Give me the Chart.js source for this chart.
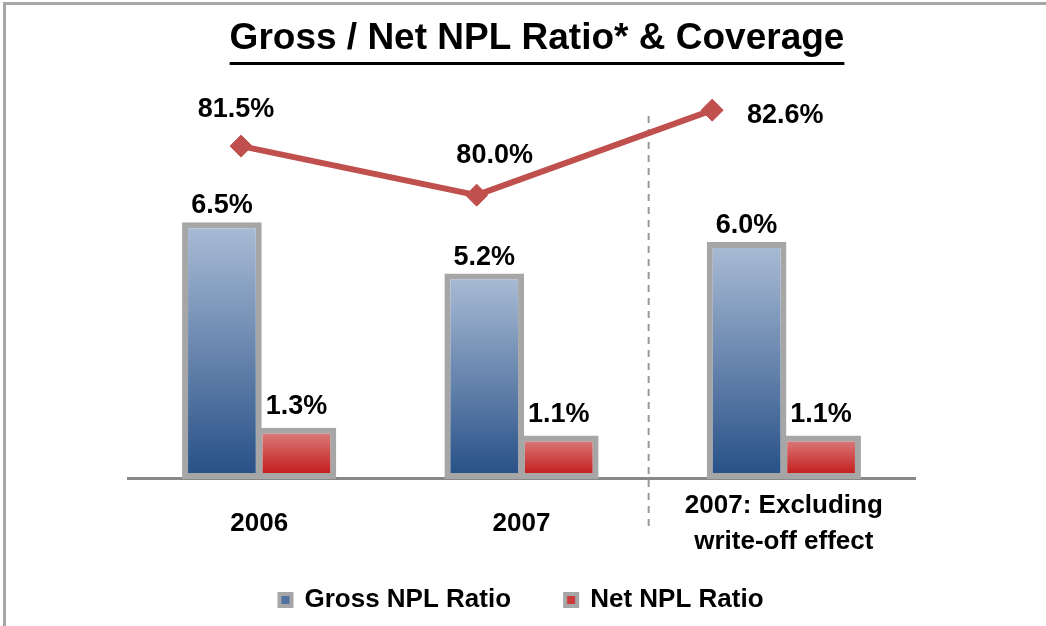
<!DOCTYPE html>
<html>
<head>
<meta charset="utf-8">
<script src="https://cdn.jsdelivr.net/npm/chart.js@4.4.1/dist/chart.umd.min.js"></script>
<style>
  html, body { margin: 0; padding: 0; background: #fff; overflow: hidden; }
  #wrap { position: relative; width: 1046px; height: 626px; }
  #frame { position: absolute; left: 3px; top: 2px; right: -10px; bottom: -10px;
           border-left: 3px solid #a6a6a6; border-top: 3px solid #a6a6a6; pointer-events: none; }
</style>
</head>
<body>
<div id="wrap">
  <canvas id="chart" width="1046" height="626"></canvas>
  <div id="frame"></div>
</div>
<script>
const categories = ["2006", "2007", ["2007: Excluding", "write-off effect"]];
const grossNpl = [6.5, 5.2, 6.0];
const netNpl = [1.3, 1.1, 1.1];
const coverage = [81.5, 80.0, 82.6];
const seriesNames = ["Gross NPL Ratio", "Net NPL Ratio"];

const FONT = '"Liberation Sans", Arial, Helvetica, sans-serif';
const TITLE = "Gross / Net NPL Ratio* & Coverage";

// coverage markers sit on their own spacing along the category axis
const coverageStart = -0.069;
const coverageStep = 0.898;

// label placement: gap above bars, and shifts for the coverage labels
const barLabelGap = [9, 14];
const coverageLabelShift = [[-5, -29], [18, -32], [73, 13]];

// per-bar vertical gradient, light at the top, dark at the base
function barGradient(top, bottom) {
  return (ctx) => {
    const chart = ctx.chart;
    if (ctx.type !== "data" || !chart.chartArea) return bottom;
    const y = chart.scales.y;
    const g = chart.ctx.createLinearGradient(0, y.getPixelForValue(ctx.raw), 0, y.getPixelForValue(0));
    g.addColorStop(0, top);
    g.addColorStop(1, bottom);
    return g;
  };
}

// underlined heading
const headline = {
  id: "headline",
  afterDraw(chart) {
    const c = chart.ctx;
    c.save();
    c.font = "bold 37px " + FONT;
    c.fillStyle = "#000";
    c.textAlign = "center";
    c.textBaseline = "alphabetic";
    const cx = 537;
    c.fillText(TITLE, cx, 49);
    const w = c.measureText(TITLE).width;
    c.fillRect(cx - w / 2, 62, w, 3);
    c.restore();
  }
};

// dashed divider between the reported and adjusted figures
const separator = {
  id: "separator",
  beforeDatasetsDraw(chart) {
    const x = chart.scales.x;
    const area = chart.chartArea;
    const sx = (x.getPixelForValue(1) + x.getPixelForValue(2)) / 2 - 4;
    const c = chart.ctx;
    c.save();
    c.strokeStyle = "#999";
    c.lineWidth = 2;
    c.setLineDash([7, 6]);
    c.beginPath();
    c.moveTo(sx, area.top + 32);
    c.lineTo(sx, area.bottom + 50);
    c.stroke();
    c.restore();
  }
};

const valueLabels = {
  id: "valueLabels",
  afterDatasetsDraw(chart) {
    const c = chart.ctx;
    c.save();
    c.font = "bold 27px " + FONT;
    c.fillStyle = "#000";
    c.textAlign = "center";
    c.textBaseline = "alphabetic";
    [grossNpl, netNpl].forEach((vals, di) => {
      chart.getDatasetMeta(di).data.forEach((bar, i) => {
        c.fillText(vals[i].toFixed(1) + "%", bar.x, bar.y - barLabelGap[di]);
      });
    });
    chart.getDatasetMeta(2).data.forEach((pt, i) => {
      const s = coverageLabelShift[i];
      c.fillText(coverage[i].toFixed(1) + "%", pt.x + s[0], pt.y + s[1]);
    });
    c.restore();
  }
};

new Chart(document.getElementById("chart"), {
  type: "bar",
  data: {
    labels: categories,
    datasets: [
      {
        label: seriesNames[0],
        data: grossNpl,
        backgroundColor: barGradient("#abbdd6", "#264f86"),
        borderColor: "#a6a6a6",
        borderWidth: 6,
        borderSkipped: false,
        categoryPercentage: 0.568,
        barPercentage: 1.07,
        order: 2
      },
      {
        label: seriesNames[1],
        data: netNpl,
        backgroundColor: barGradient("#dc8686", "#c21010"),
        borderColor: "#a6a6a6",
        borderWidth: 6,
        borderSkipped: false,
        categoryPercentage: 0.568,
        barPercentage: 1.07,
        order: 2
      },
      {
        type: "line",
        label: "Coverage",
        parsing: false,
        data: coverage.map((v, i) => ({ x: coverageStart + i * coverageStep, y: v })),
        yAxisID: "y2",
        borderColor: "#c0504d",
        backgroundColor: "#c0504d",
        borderWidth: 6,
        pointStyle: "rectRot",
        pointRadius: 11,
        pointBorderWidth: 1,
        tension: 0,
        order: 1
      }
    ]
  },
  options: {
    responsive: false,
    animation: false,
    events: [],
    layout: { padding: { left: 128, right: 131, top: 84, bottom: 3 } },
    scales: {
      x: {
        grid: { display: false, drawTicks: false },
        border: { color: "#888", width: 3 },
        ticks: {
          color: "#000",
          // single-line labels get a double line height so they sit mid-way in the two-line band
          font: (ctx) => ({
            family: FONT, size: 26, weight: "bold",
            lineHeight: Array.isArray(categories[ctx.index]) ? 1.385 : 2.77
          }),
          padding: 9,
          maxRotation: 0
        }
      },
      y: { display: false, min: 0, max: 10 },
      y2: { display: false, min: 71.32, max: 83.4 }
    },
    plugins: {
      title: { display: false },
      legend: {
        position: "bottom",
        labels: {
          color: "#000",
          font: { family: FONT, size: 26, weight: "bold" },
          boxWidth: 12,
          boxHeight: 12,
          padding: 18,
          generateLabels: () => [
            { text: seriesNames[0] + "     ", fillStyle: "#4e6f9f", strokeStyle: "#a6a6a6", lineWidth: 4, datasetIndex: 0, fontColor: "#000" },
            { text: seriesNames[1], fillStyle: "#cc3b3b", strokeStyle: "#a6a6a6", lineWidth: 4, datasetIndex: 1, fontColor: "#000" }
          ]
        }
      },
      tooltip: { enabled: false }
    }
  },
  plugins: [headline, separator, valueLabels]
});
</script>
</body>
</html>
